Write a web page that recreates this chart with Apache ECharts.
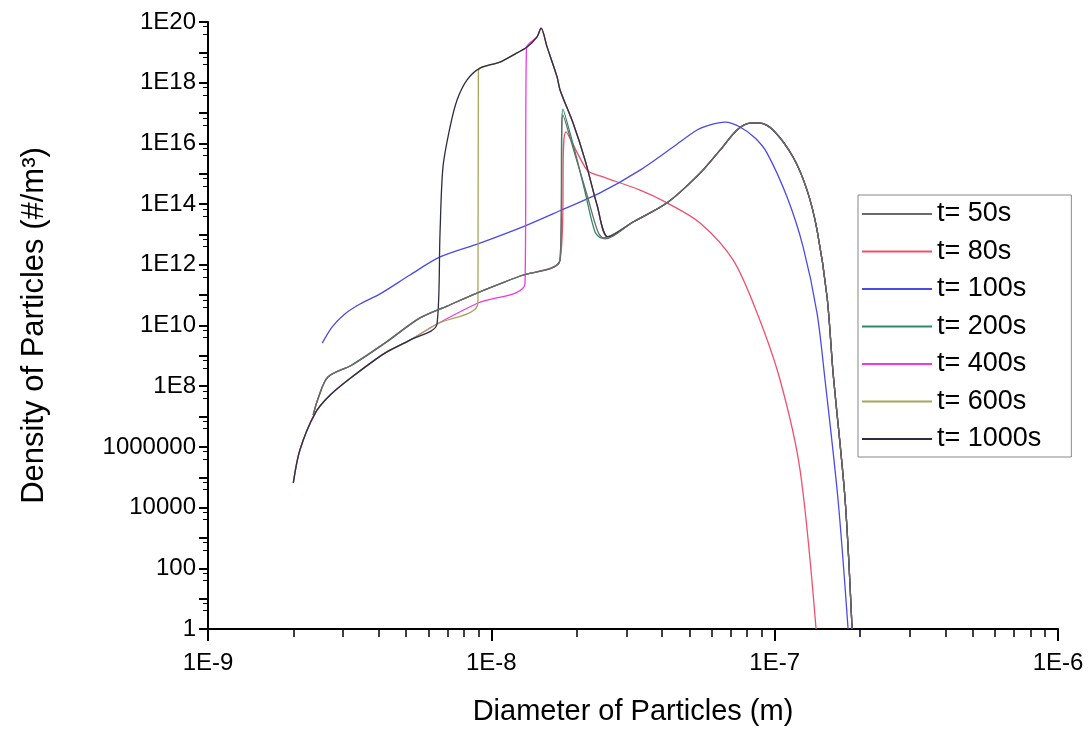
<!DOCTYPE html>
<html>
<head>
<meta charset="utf-8">
<script src="https://cdn.jsdelivr.net/npm/echarts@6/dist/echarts.min.js"></script>
<style>
  html, body { margin: 0; padding: 0; background: #fff; }
  #chart { width: 1091px; height: 755px; }
</style>
</head>
<body>
<div id="chart"></div>
<script>
// legend names
var seriesNames = ['t= 50s', 't= 80s', 't= 100s', 't= 200s', 't= 400s', 't= 600s', 't= 1000s'];

// small-size branch shared by 400s / 600s / 1000s  [diameter m, density #/m3]
var branchLow = [
    [2.0e-9, 6.5e4], [2.11e-9, 7.9e5], [2.39e-9, 1.3e7], [2.7e-9, 5.1e7],
    [3.22e-9, 2.0e8], [4.21e-9, 1.23e9], [5.16e-9, 3.3e9], [6.43e-9, 1.12e10],
    [8.97e-9, 5.5e10], [1.315e-8, 2.5e11]
];
// small-size branch shared by 50s / 80s / 200s
var branchHigh = [
    [2.35e-9, 1.12e7], [2.45e-9, 4.1e7], [2.65e-9, 2.0e8], [3.22e-9, 5.0e8],
    [4.21e-9, 2.63e9], [5.6e-9, 1.78e10], [6.98e-9, 4.37e10], [8.9e-9, 1.17e11],
    [1.263e-8, 4.27e11], [1.748e-8, 1.45e12]
];
// nucleation peak of the late curves
var peakTop = [
    [6.59e-9, 1.12e13], [6.75e-9, 1.66e15], [7.15e-9, 3.47e16], [7.57e-9, 2.69e17],
    [8.21e-9, 1.23e18], [9.12e-9, 3.02e18], [1.073e-8, 4.79e18], [1.193e-8, 8.13e18],
    [1.337e-8, 1.51e19], [1.45e-8, 3.24e19], [1.498e-8, 6.3e19]
];
var peakFall = [
    [1.573e-8, 1.51e19], [1.706e-8, 1.55e18], [1.748e-8, 5.75e17], [1.943e-8, 4.68e16],
    [2.142e-8, 2.82e15], [2.361e-8, 9.33e13], [2.582e-8, 8.3e12]
];
// accumulation mode (rise, peak and tail)
var modeRise = [
    [3.164e-8, 2.57e13], [4.171e-8, 1.1e14], [5.455e-8, 1.05e15], [6.416e-8, 6.0e15],
    [7.367e-8, 2.75e16], [8.189e-8, 4.68e16], [8.882e-8, 4.68e16], [9.87e-8, 2.75e16],
    [1.161e-7, 3.55e15], [1.301e-7, 2.88e14], [1.411e-7, 1.41e13], [1.531e-7, 8.7e10],
    [1.608e-7, 2.7e8], [1.773e-7, 1.78e4], [1.876e-7, 1]
];
var spike50 = [[1.79e-8, 8.7e16], [1.975e-8, 4.2e15], [2.177e-8, 2.0e14], [2.38e-8, 1.2e13], [2.52e-8, 7.1e12]];
var spike200 = [[1.79e-8, 1.35e17], [1.975e-8, 5.25e15], [2.142e-8, 2.5e14], [2.323e-8, 1.2e13], [2.459e-8, 7.6e12]];
var curve80 = [
    [1.835e-8, 2.4e16], [2.177e-8, 1.32e15], [2.419e-8, 8.5e14], [3.349e-8, 2.9e14],
    [4.171e-8, 1.1e14], [5.455e-8, 2.4e13], [7.132e-8, 1.45e12], [8.668e-8, 2.57e10],
    [1.045e-7, 1.6e8], [1.229e-7, 1.74e5], [1.4e-7, 1]
];
var curve100 = [
    [2.53e-9, 2.63e9], [2.74e-9, 8.9e9], [3.04e-9, 2.4e10], [3.44e-9, 5.1e10],
    [4.05e-9, 1.1e11], [5.16e-9, 4.6e11], [6.59e-9, 1.82e12], [9.12e-9, 5.2e12],
    [1.337e-8, 2.04e13], [1.777e-8, 6.5e13], [2.419e-8, 2.34e14],
    [3.349e-8, 1.32e15], [4.38e-8, 7.6e15], [5.323e-8, 2.75e16], [5.92e-8, 4.07e16],
    [6.68e-8, 5.0e16], [7.549e-8, 3.47e16], [8.53e-8, 1.5e16], [9.4e-8, 4.8e15], [1.106e-7, 1.7e14],
    [1.26e-7, 3.9e12], [1.411e-7, 2.57e10], [1.506e-7, 1.6e8], [1.674e-7, 1.78e4], [1.816e-7, 1]
];
// jump points where the late curves leave the small-size branch
var jump600 = [[9.0e-9, 2.3e18]];
var jump400 = [[1.33e-8, 1.4e19]];

var colors = ['#6a6a6a', '#f0506e', '#4a4ae6', '#2e8a66', '#f038e8', '#a6a65a', '#2c2c44'];
// draw order: keep the grey 50s branch above the coloured ones
var zOrder = [4, 2, 2, 2, 2, 2, 3];

var seriesData = [
    branchHigh.concat(spike50, modeRise),
    branchHigh.concat(curve80),
    curve100,
    branchHigh.concat(spike200, modeRise),
    branchLow.concat(jump400, peakTop.slice(9), peakFall, modeRise),
    branchLow.slice(0, 9).concat(jump600, peakTop.slice(5), peakFall, modeRise),
    branchLow.slice(0, 8).concat(peakTop, peakFall, modeRise)
];

var FONT = 'Liberation Sans, Arial, sans-serif';

var chart = echarts.init(document.getElementById('chart'));

var option = {
    animation: false,
    color: colors,
    grid: {
        left: 208,
        right: 33,
        top: 22,
        bottom: 126
    },
    legend: {
        orient: 'vertical',
        left: 858,
        top: 195,
        data: seriesNames,
        icon: 'rect',
        itemWidth: 70,
        itemHeight: 2,
        itemGap: 7.5,
        padding: [4, 30, 3, 4],
        borderColor: '#888',
        borderWidth: 1,
        textStyle: {
            fontFamily: FONT,
            fontSize: 27,
            lineHeight: 30,
            color: '#000'
        }
    },
    xAxis: {
        type: 'log',
        logBase: 10,
        min: 1e-9,
        max: 1e-6,
        interval: 1,
        name: 'Diameter of Particles (m)',
        nameLocation: 'middle',
        nameGap: 68,
        nameTextStyle: { fontFamily: FONT, fontSize: 29, color: '#000' },
        axisLine: { lineStyle: { color: '#000', width: 2 } },
        axisTick: { length: 12, lineStyle: { color: '#000', width: 2 } },
        minorTick: { show: true, splitNumber: 9, length: 8, lineStyle: { color: '#000', width: 1.5 } },
        splitLine: { show: false },
        axisLabel: {
            fontFamily: FONT,
            fontSize: 24,
            color: '#000',
            margin: 22,
            formatter: function (v) {
                return '1E' + Math.round(Math.log10(v));
            }
        }
    },
    yAxis: {
        type: 'log',
        logBase: 10,
        min: 1,
        max: 1e20,
        interval: 1,
        name: 'Density of Particles (#/m\u00b3)',
        nameLocation: 'middle',
        nameGap: 158,
        nameTextStyle: { fontFamily: FONT, fontSize: 31, color: '#000' },
        axisLine: { lineStyle: { color: '#000', width: 2 } },
        axisTick: { length: 9, lineStyle: { color: '#000', width: 2 } },
        minorTick: { show: true, splitNumber: 3, length: 5, lineStyle: { color: '#000', width: 1 } },
        splitLine: { show: false },
        axisLabel: {
            fontFamily: FONT,
            fontSize: 24,
            color: '#000',
            margin: 12,
            formatter: function (v) {
                // only every second decade carries a label
                var e = Math.round(Math.log10(v));
                if (e % 2 !== 0) {
                    return '';
                }
                return e >= 8 ? '1E' + e : String(Math.round(v));
            }
        }
    },
    series: seriesNames.map(function (name, i) {
        return {
            name: name,
            type: 'line',
            data: seriesData[i],
            symbol: 'none',
            smooth: 0.3,
            z: zOrder[i],
            lineStyle: { width: 1.3, color: colors[i] }
        };
    })
};

chart.setOption(option);
</script>
</body>
</html>
